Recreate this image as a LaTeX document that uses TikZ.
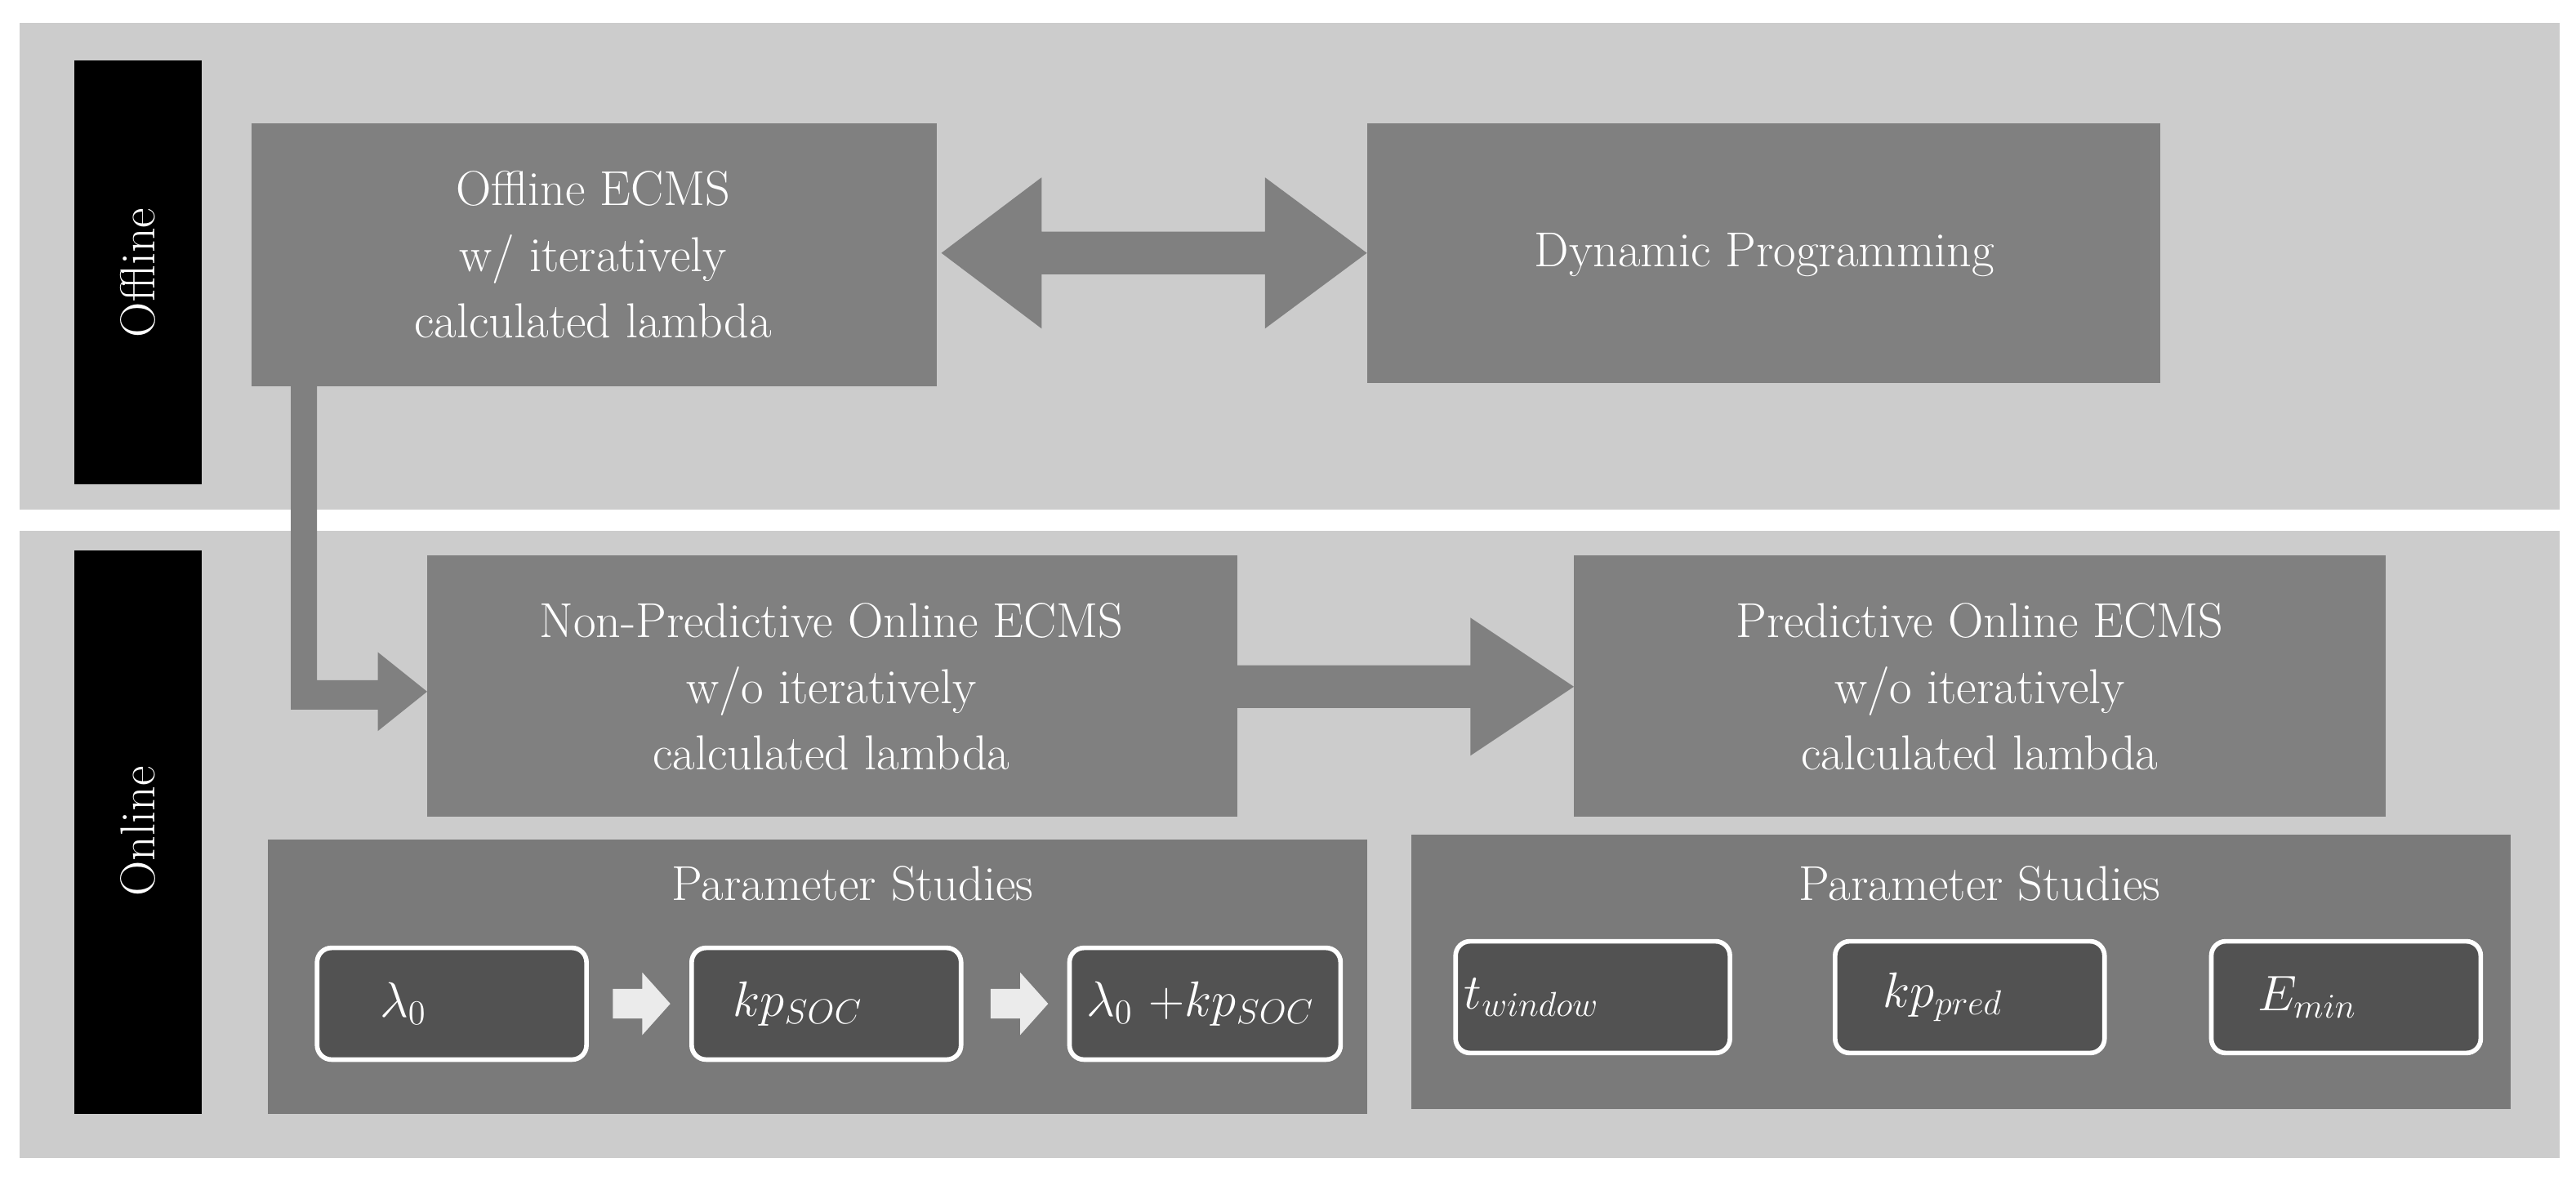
\documentclass[tikz,border=0pt]{standalone}
\begin{document}
\begin{tikzpicture}[x=0.02cm,y=-0.02cm,
  band/.style={fill=black!20,draw=none},
  lab/.style={fill=black,draw=none},
  box/.style={fill=black!50,draw=none},
  panel/.style={fill=black!52,draw=none},
  inner/.style={fill=black!68,draw=white,line width=1.6pt,rounded corners=5pt},
  arr/.style={fill=black!50,draw=none},
  txt/.style={text=white,align=center,font=\fontsize{17}{23}\selectfont},
  mtxt/.style={text=white,font=\fontsize{18}{22}\selectfont}]
\useasboundingbox (0,0) rectangle (1568,721);
\fill[white] (0,0) rectangle (1568,721);
\fill[band] (12,14) rectangle (1558,310);
\fill[band] (12,323) rectangle (1558,705);
\fill[lab] (45,37) rectangle (123,295);
\fill[lab] (45,335) rectangle (123,678);
\node[txt,rotate=90] (off) at (84,166) {Offline};
\node[txt,rotate=90] (on) at (84,506) {Online};
% arrows
\fill[arr] (573,154) -- (634,108) -- (634,141) -- (770,141) -- (770,108) -- (832,154) -- (770,200) -- (770,167) -- (634,167) -- (634,200) -- cycle;
\fill[arr] (753,405) -- (895,405) -- (895,376) -- (958,418) -- (895,460) -- (895,431) -- (753,431) -- cycle;
\fill[arr] (177,230) -- (193,230) -- (193,414) -- (230,414) -- (230,397) -- (260,421) -- (230,445) -- (230,432) -- (177,432) -- cycle;
% boxes
\fill[box] (153,75) rectangle (570,235);
\node[txt] (ecms) at (361,155) {Offline ECMS\\w/ iteratively\\calculated lambda};
\fill[box] (832,75) rectangle (1315,233);
\node[txt] (dp) at (1074,155) {Dynamic Programming};
\fill[box] (260,338) rectangle (753,497);
\node[txt] (np) at (506,418) {Non-Predictive Online ECMS\\w/o iteratively\\calculated lambda};
\fill[box] (958,338) rectangle (1452,497);
\node[txt] (p) at (1205,418) {Predictive Online ECMS\\w/o iteratively\\calculated lambda};
% panels
\fill[panel] (163,511) rectangle (832,678);
\node[txt] (ps1) at (519,538) {Parameter Studies};
\draw[inner] (193,577) rectangle (357,645);
\draw[inner] (421,577) rectangle (585,645);
\draw[inner] (651,577) rectangle (816,645);
\node[mtxt,anchor=west] (a1) at (225,611) {$\lambda_0$};
\node[mtxt,anchor=west] (a2) at (440,611) {$kp_{SOC}$};
\node[mtxt,anchor=west] (a3) at (655,611) {$\lambda_0\ {+}kp_{SOC}$};
\fill[white!92!black] (373,602) -- (391,602) -- (391,592) -- (408,611) -- (391,630) -- (391,620) -- (373,620) -- cycle;
\fill[white!92!black] (603,602) -- (621,602) -- (621,592) -- (638,611) -- (621,630) -- (621,620) -- (603,620) -- cycle;
\fill[panel] (859,508) rectangle (1528,675);
\node[txt] (ps2) at (1205,538) {Parameter Studies};
\draw[inner] (886,573) rectangle (1053,641);
\draw[inner] (1117,573) rectangle (1281,641);
\draw[inner] (1346,573) rectangle (1510,641);
\node[mtxt,anchor=west] (b1) at (885,607) {$t_{window}$};
\node[mtxt,anchor=west] (b2) at (1140,607) {$kp_{pred}$};
\node[mtxt,anchor=west] (b3) at (1368,607) {$E_{min}$};
\end{tikzpicture}
\end{document}
